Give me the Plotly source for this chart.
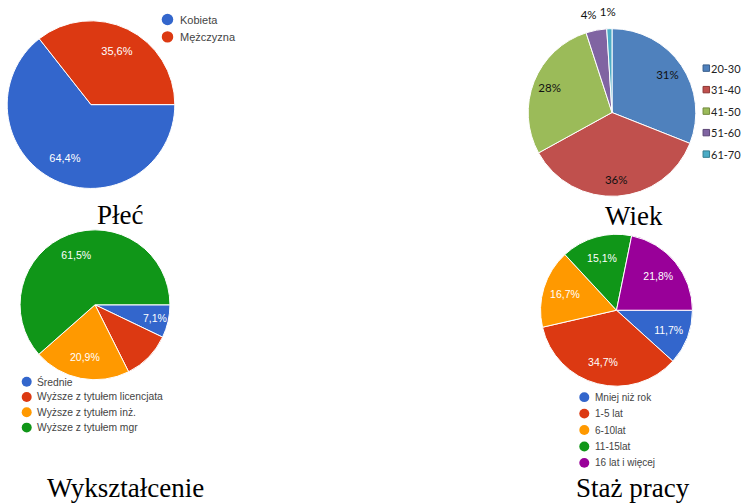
import plotly.graph_objects as go

W, H = 741, 503

# Płeć
plec_labels = ["Kobieta", "Mężczyzna"]
plec_values = [64.4, 35.6]

# Wiek
wiek_labels = ["20-30", "31-40", "41-50", "51-60", "61-70"]
wiek_values = [31, 36, 28, 4, 1]

# Wykształcenie (the licencjata slice carries no label)
wyk_labels = ["Średnie", "Wyższe z tytułem licencjata", "Wyższe z tytułem inż.", "Wyższe z tytułem mgr"]
wyk_values = [7.1, 10.5, 20.9, 61.5]

# Staż pracy
staz_labels = ["Mniej niż rok", "1-5 lat", "6-10lat", "11-15lat", "16 lat i więcej"]
staz_values = [11.7, 34.7, 16.7, 15.1, 21.8]

titles = ["Płeć", "Wiek", "Wykształcenie", "Staż pracy"]

google_colors = ["#3366CC", "#DC3912", "#FF9900", "#109618", "#990099"]
excel_colors = ["#4F81BD", "#C0504D", "#9BBB59", "#8064A2", "#4BACC6"]
excel_borders = ["#385D8A", "#8C3836", "#71893F", "#5C4776", "#357D91"]

SANS = "Liberation Sans, Arial, sans-serif"
EXCEL = "Lato, Liberation Sans, sans-serif"
SERIF = "Liberation Serif, Times New Roman, serif"
CLEAR = "rgba(0,0,0,0)"


def px(x):
    return x / W


def py(y):
    return 1 - y / H


def dom(cx, cy, r):
    return dict(x=[px(cx - r), px(cx + r)], y=[py(cy + r), py(cy - r)])


fig = go.Figure()


def pie_with_labels(labels, values, colors, rotation, domain, font, texttemplate,
                    hole, textposition="inside", line=None):
    """Coloured pie plus a transparent twin whose ring pushes the
    percentage labels out towards the rim."""
    fig.add_trace(go.Pie(
        labels=labels, values=values, sort=False,
        direction="clockwise", rotation=rotation,
        marker=dict(colors=colors, line=line or dict(color="white", width=1)),
        textinfo="none", domain=domain,
    ))
    fig.add_trace(go.Pie(
        labels=labels, values=values, sort=False,
        direction="clockwise", rotation=rotation, hole=hole,
        marker=dict(colors=[CLEAR] * len(values), line=dict(width=0)),
        texttemplate=texttemplate, textposition=textposition,
        insidetextorientation="horizontal",
        textfont=font, insidetextfont=font, outsidetextfont=font,
        domain=domain, hoverinfo="skip",
    ))


white11 = dict(family=SANS, size=11, color="white")
white105 = dict(family=SANS, size=10.5, color="white")
dark = dict(family=EXCEL, size=11.5, color="#111")

pie_with_labels(plec_labels, plec_values, google_colors[:2], 90,
                dom(91, 99, 85), white11, "%{value:.1f}%", 0.42)

pie_with_labels(wyk_labels, wyk_values, google_colors[:4], 90,
                dom(95, 302, 76), white105,
                ["%{value:.1f}%", "", "%{value:.1f}%", "%{value:.1f}%"], 0.42)

pie_with_labels(staz_labels, staz_values, google_colors, 90,
                dom(616.5, 307.5, 77), white105, "%{value:.1f}%", 0.42)

# Wiek: inside labels for the three big slices
pie_with_labels(wiek_labels, wiek_values, excel_colors, 0,
                dom(612, 107, 85), dark,
                ["%{value}%", "%{value}%", "%{value}%", "", ""], 0.6)

# Wiek: the two thin slices get their labels outside the rim, each from
# its own transparent twin so the two labels sit side by side
for idx, (cx, cy) in [(3, (615.5, 97)), (4, (621.5, 96.5))]:
    tmpl = ["" if i != idx else "%{value}%" for i in range(len(wiek_values))]
    pos = ["none" if i != idx else "outside" for i in range(len(wiek_values))]
    fig.add_trace(go.Pie(
        labels=wiek_labels, values=wiek_values, sort=False,
        direction="clockwise", rotation=0,
        marker=dict(colors=[CLEAR] * len(wiek_values), line=dict(width=0)),
        texttemplate=tmpl, textposition=pos,
        textfont=dark, outsidetextfont=dark,
        domain=dom(cx, cy, 85), hoverinfo="skip",
    ))

shapes = []
annotations = []


def circle_legend(labels, colors, cx, y0, step, d, tx, size):
    for i, (lab, col) in enumerate(zip(labels, colors)):
        cy = y0 + i * step
        shapes.append(dict(
            type="circle", xref="paper", yref="paper",
            x0=px(cx - d / 2), x1=px(cx + d / 2),
            y0=py(cy + d / 2), y1=py(cy - d / 2),
            fillcolor=col, line=dict(width=0),
        ))
        annotations.append(dict(
            text=lab, xref="paper", yref="paper", x=px(tx), y=py(cy),
            xanchor="left", yanchor="middle", showarrow=False,
            font=dict(family=SANS, size=size, color="#444"),
        ))


circle_legend(plec_labels, google_colors, 167.5, 12.7, 17.6, 11.5, 177.5, 11)
circle_legend(wyk_labels, google_colors, 26.7, 380, 15.5, 10, 35, 10.3)
circle_legend(staz_labels, google_colors, 584.3, 395.7, 16.65, 10, 593, 10)

# square markers for the Wiek legend
for i, (lab, col, brd) in enumerate(zip(wiek_labels, excel_colors, excel_borders)):
    cy = 62 + i * 21.8
    s = 6.5
    shapes.append(dict(
        type="rect", xref="paper", yref="paper",
        x0=px(706.3 - s / 2), x1=px(706.3 + s / 2),
        y0=py(cy + s / 2), y1=py(cy - s / 2),
        fillcolor=col, line=dict(color=brd, width=1),
    ))
    annotations.append(dict(
        text=lab, xref="paper", yref="paper", x=px(709), y=py(cy),
        xanchor="left", yanchor="middle", showarrow=False,
        font=dict(family=EXCEL, size=11, color="#222"),
    ))

# panel captions
for txt, (cx, cy) in zip(titles, [(120.5, 211), (634, 212), (125, 488), (633, 487.5)]):
    annotations.append(dict(
        text=txt, xref="paper", yref="paper", x=px(cx), y=py(cy),
        xanchor="center", yanchor="middle", showarrow=False,
        font=dict(family=SERIF, size=27, color="black"),
    ))

fig.update_layout(
    width=W, height=H,
    margin=dict(l=0, r=0, t=0, b=0),
    paper_bgcolor="white", plot_bgcolor="white",
    showlegend=False,
    separators=", ",
    shapes=shapes, annotations=annotations,
)

fig.write_html("out.html", post_script="document.body.style.margin = '0';")
